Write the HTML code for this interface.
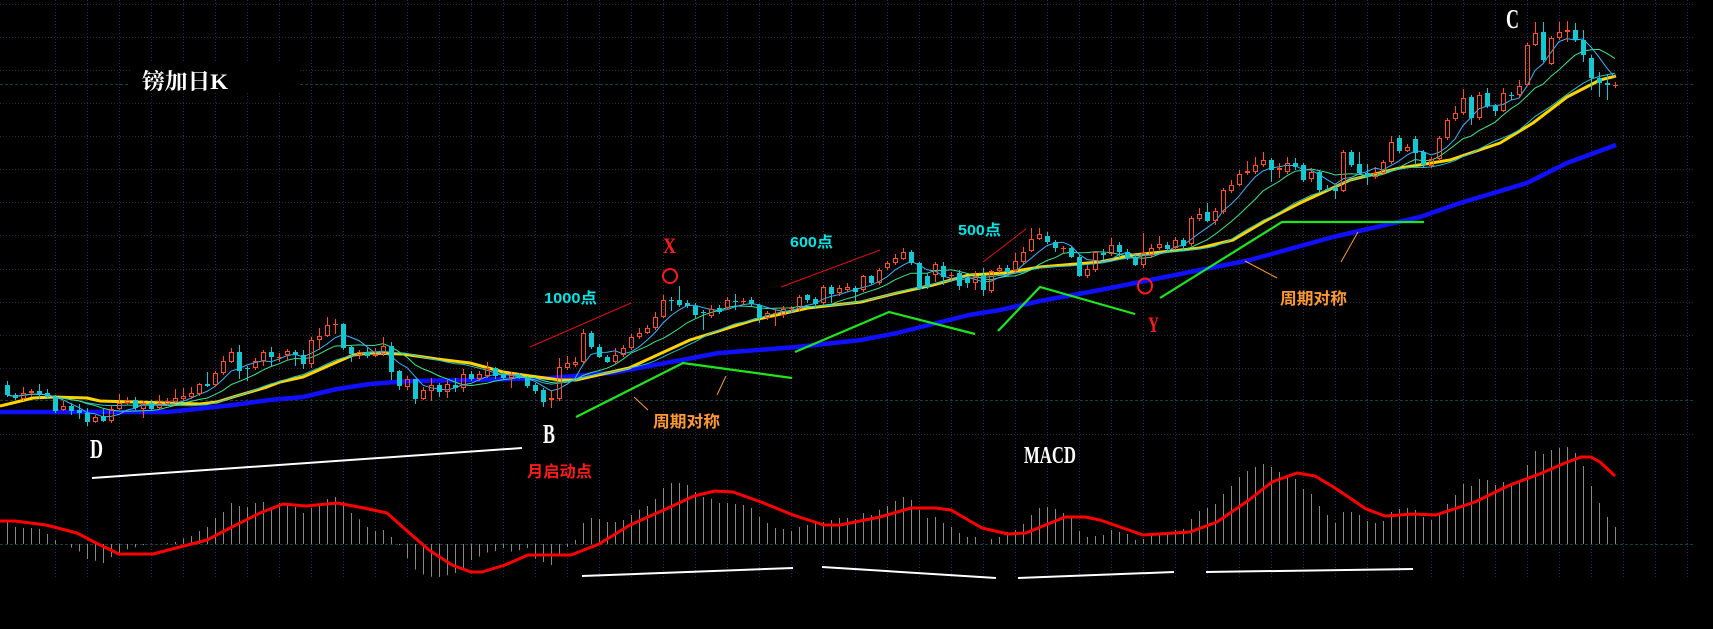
<!DOCTYPE html>
<html>
<head>
<meta charset="utf-8">
<style>
html,body{margin:0;padding:0;background:#000;overflow:hidden;}
svg{display:block;}
</style>
</head>
<body>
<svg id="s" xmlns="http://www.w3.org/2000/svg" width="1713" height="629" viewBox="0 0 1713 629">
<rect x="0" y="0" width="1713" height="629" fill="#000"/>
<g id="g"></g>
<g id="ann">
  <line x1="530" y1="347" x2="631" y2="303" stroke="#e01010" stroke-width="1"/>
  <line x1="781" y1="287" x2="880" y2="250" stroke="#e01010" stroke-width="1"/>
  <line x1="983" y1="262" x2="1026" y2="229" stroke="#e01010" stroke-width="1"/>
  <polyline points="576,417 683,363 690,364 792,378" fill="none" stroke="#1ee61e" stroke-width="2.2"/>
  <polyline points="795,352 889,312 975,334" fill="none" stroke="#1ee61e" stroke-width="2.2"/>
  <polyline points="998,331 1040,287 1135,314" fill="none" stroke="#1ee61e" stroke-width="2.2"/>
  <polyline points="1160,298 1282,222 1424,222" fill="none" stroke="#1ee61e" stroke-width="2.2"/>
  <line x1="634" y1="397" x2="648" y2="410" stroke="#ff9a30" stroke-width="1"/>
  <line x1="717" y1="395" x2="726" y2="376" stroke="#ff9a30" stroke-width="1"/>
  <line x1="1245" y1="261" x2="1277" y2="278" stroke="#ff9a30" stroke-width="1"/>
  <line x1="1341" y1="262" x2="1358" y2="232" stroke="#ff9a30" stroke-width="1"/>
  <ellipse cx="670" cy="276" rx="7" ry="7" fill="none" stroke="#ff1a1a" stroke-width="2"/>
  <ellipse cx="1145" cy="286" rx="7" ry="7.5" fill="none" stroke="#ff1a1a" stroke-width="2"/>
  <line x1="92" y1="478" x2="522" y2="448" stroke="#ffffff" stroke-width="2"/>
  <line x1="582" y1="576" x2="793" y2="568" stroke="#ffffff" stroke-width="2"/>
  <line x1="822" y1="567" x2="996" y2="578" stroke="#ffffff" stroke-width="2"/>
  <line x1="1018" y1="578" x2="1174" y2="572" stroke="#ffffff" stroke-width="2"/>
  <line x1="1206" y1="572" x2="1413" y2="569" stroke="#ffffff" stroke-width="2"/>
</g>
<rect x="130" y="62" width="168" height="30" fill="#000"/>
<text x="142" y="89" font-family="'Liberation Serif','Noto Serif CJK SC',serif" font-size="22" font-weight="bold" fill="#ffffff" textLength="86" lengthAdjust="spacingAndGlyphs">镑加日K</text>
<text x="544" y="303" font-family="'Liberation Sans','Noto Sans CJK SC',sans-serif" font-size="15" font-weight="bold" fill="#00e6e6" textLength="53" lengthAdjust="spacingAndGlyphs">1000点</text>
<text x="790" y="247" font-family="'Liberation Sans','Noto Sans CJK SC',sans-serif" font-size="15" font-weight="bold" fill="#00e6e6" textLength="43" lengthAdjust="spacingAndGlyphs">600点</text>
<text x="958" y="235" font-family="'Liberation Sans','Noto Sans CJK SC',sans-serif" font-size="15" font-weight="bold" fill="#00e6e6" textLength="43" lengthAdjust="spacingAndGlyphs">500点</text>
<text x="653" y="427" font-family="'Liberation Sans','Noto Sans CJK SC',sans-serif" font-size="16" font-weight="bold" fill="#ff9933" textLength="67" lengthAdjust="spacingAndGlyphs">周期对称</text>
<text x="1280" y="304" font-family="'Liberation Sans','Noto Sans CJK SC',sans-serif" font-size="16" font-weight="bold" fill="#ff9933" textLength="67" lengthAdjust="spacingAndGlyphs">周期对称</text>
<text x="527" y="477" font-family="'Liberation Sans','Noto Sans CJK SC',sans-serif" font-size="16" font-weight="bold" fill="#ff1a1a" textLength="65" lengthAdjust="spacingAndGlyphs">月启动点</text>
<text x="90" y="458" font-family="'Liberation Serif',serif" font-size="27" font-weight="bold" fill="#ffffff" textLength="13" lengthAdjust="spacingAndGlyphs">D</text>
<text x="543" y="443" font-family="'Liberation Serif',serif" font-size="27" font-weight="bold" fill="#ffffff" textLength="12" lengthAdjust="spacingAndGlyphs">B</text>
<text x="1506" y="28" font-family="'Liberation Serif',serif" font-size="27" font-weight="bold" fill="#ffffff" textLength="13" lengthAdjust="spacingAndGlyphs">C</text>
<text x="663" y="253" font-family="'Liberation Serif',serif" font-size="22" font-weight="bold" fill="#ff1a1a" textLength="13" lengthAdjust="spacingAndGlyphs">X</text>
<text x="1148" y="332" font-family="'Liberation Serif',serif" font-size="22" font-weight="bold" fill="#ff1a1a" textLength="11" lengthAdjust="spacingAndGlyphs">Y</text>
<text x="1024" y="463" font-family="'Liberation Serif',serif" font-size="24" font-weight="bold" fill="#ffffff" textLength="52" lengthAdjust="spacingAndGlyphs">MACD</text>
</svg>
<script>
(function(){
var C=[
[385,395,381,397,0],[395,398,393,400,0],[393,399,387,401,1],[391,393,389,397,1],[391,394,384,399,0],
[393,397,389,398,0],[397,411,395,413,0],[406,410,401,411,1],[406,411,403,415,0],[410,413,404,419,0],
[413,422,408,426,0],[417,422,415,423,1],[416,421,408,422,0],[409,421,406,423,1],[403,409,394,410,1],
[400,403,397,405,1],[400,408,397,410,0],[403,409,401,418,1],[403,409,400,411,0],[403,408,395,410,1],
[401,404,398,406,1],[398,402,389,403,1],[396,399,388,401,1],[393,397,387,399,1],[384,394,383,396,1],
[384,386,372,387,0],[373,385,371,386,1],[361,373,356,375,1],[352,362,348,363,1],[352,371,345,379,0],
[368,368,366,381,0],[361,368,358,370,1],[352,361,350,366,1],[352,357,347,367,0],[357,358,353,362,1],
[351,355,349,360,1],[352,355,350,366,0],[355,364,350,369,0],[340,364,337,368,1],[336,340,328,350,1],
[325,336,317,337,1],[324,325,319,334,1],[324,348,323,350,0],[347,354,345,362,0],[352,355,350,359,1],
[352,356,348,358,0],[355,356,348,357,1],[346,354,337,356,1],[346,372,342,380,0],[371,386,370,390,0],
[379,387,376,390,1],[379,399,379,404,0],[390,399,387,400,1],[385,391,378,401,1],[385,392,383,397,0],
[384,392,380,398,1],[385,388,378,392,0],[374,388,369,392,1],[374,379,371,381,0],[374,379,371,381,1],
[368,376,362,378,1],[368,376,367,379,0],[375,378,372,380,0],[375,378,372,388,1],[375,377,373,379,0],
[377,386,376,388,0],[385,391,383,394,0],[390,402,388,407,0],[398,400,390,408,1],[367,399,358,401,1],
[363,368,356,370,1],[362,365,357,367,1],[333,362,329,364,1],[333,347,331,349,0],[347,357,344,358,0],
[357,362,355,363,0],[355,362,348,364,1],[348,355,345,357,1],[337,348,334,350,1],[333,337,328,339,1],
[328,333,325,334,1],[317,328,312,330,1],[300,317,295,318,1],[300,300,297,311,0],[300,305,286,307,0],
[303,306,300,308,0],[306,315,303,318,0],[312,312,310,330,0],[309,316,305,318,1],[308,312,305,314,0],
[300,308,297,310,1],[301,301,294,310,0],[301,302,298,305,1],[300,304,297,306,0],[305,318,304,323,0],
[313,318,311,320,1],[313,314,309,326,1],[309,315,306,318,1],[308,309,306,312,1],[297,309,295,311,1],
[295,300,294,303,0],[299,304,297,308,0],[287,303,285,305,1],[287,294,285,303,0],[288,293,285,296,1],
[287,290,283,292,1],[288,292,286,301,0],[276,290,275,292,1],[276,283,275,285,0],[270,283,268,285,1],
[263,268,261,270,1],[258,263,254,265,1],[252,259,248,260,1],[252,263,250,265,0],[263,289,262,290,0],
[276,287,273,289,0],[264,275,262,282,1],[266,277,262,285,0],[275,276,272,280,1],[273,286,270,290,0],
[278,283,276,288,0],[276,283,271,290,1],[275,290,268,296,0],[271,291,270,293,1],[268,271,265,273,1],
[268,272,265,275,0],[261,271,253,274,1],[252,262,247,264,1],[239,251,228,252,1],[234,239,228,240,1],
[236,242,232,244,0],[242,248,240,252,0],[248,249,246,254,1],[248,257,246,258,0],[257,276,255,277,0],
[269,276,265,278,1],[252,270,251,272,1],[253,255,249,260,0],[245,254,238,256,1],[245,252,242,258,0],
[252,258,249,260,0],[257,265,255,266,0],[253,265,233,268,1],[248,255,244,258,1],[244,248,236,250,1],
[245,249,242,252,0],[240,248,237,250,1],[240,246,238,250,0],[218,244,216,246,1],[214,219,208,221,1],
[212,221,203,222,0],[211,221,208,225,1],[190,212,188,214,1],[185,191,180,193,1],[174,185,170,186,1],
[171,173,161,175,1],[165,172,157,174,1],[160,165,152,167,1],[160,170,158,182,0],[168,170,163,178,1],
[163,172,157,174,1],[163,167,158,170,0],[165,180,163,182,0],[172,179,168,182,1],[172,190,170,193,0],
[189,189,185,191,0],[188,191,185,199,0],[152,191,150,192,1],[152,165,150,167,0],[164,173,152,175,0],
[173,177,164,185,0],[173,177,167,179,1],[162,173,160,175,1],[142,162,136,164,1],[138,151,135,153,0],
[147,151,144,152,1],[139,153,136,165,0],[152,165,150,168,0],[159,166,157,168,1],[138,159,136,161,1],
[120,138,118,140,1],[113,119,106,121,1],[98,113,89,115,1],[97,118,95,125,0],[95,118,92,120,1],
[93,106,88,108,0],[106,111,104,116,0],[93,111,88,112,1],[95,95,92,100,0],[86,95,80,97,1],
[45,85,43,86,1],[33,45,22,46,1],[32,60,22,62,0],[38,64,36,65,1],[32,38,22,40,1],
[30,32,21,42,1],[30,40,23,42,0],[40,55,30,62,0],[58,78,55,90,0],[78,83,72,97,0],
[83,85,75,100,0],[85,85,82,88,1]
];
var YEL=[[0,406],[33,398],[53,397],[87,398],[100,401],[167,403],[200,404],[217,402],[233,397],[267,387],[280,382],[303,377],[337,362],[353,355],[370,353],[403,354],[437,359],[470,363],[503,372],[523,375],[560,380],[576,380],[629,368],[690,340],[754,320],[808,308],[861,302],[897,293],[933,285],[969,275],[1004,273],[1040,267],[1100,262],[1133,255],[1200,248],[1233,240],[1267,220],[1300,203],[1350,180],[1400,168],[1450,160],[1500,143],[1533,123],[1567,97],[1600,80],[1616,76]];
var BLU=[[0,412],[167,412],[187,410],[233,405],[270,400],[303,397],[337,389],[370,384],[410,381],[470,380],[550,378],[611,373],[660,364],[719,353],[797,347],[861,340],[897,333],[969,315],[1000,310],[1040,301],[1100,290],[1140,282],[1250,260],[1333,237],[1420,217],[1460,203],[1527,183],[1567,163],[1616,145]];
var MR=[[0,521],[15,521],[46,525],[77,533],[96,543],[119,554],[153,554],[176,548],[207,540],[230,528],[260,513],[283,504],[306,506],[337,503],[364,508],[387,513],[406,530],[429,550],[452,565],[471,572],[482,572],[505,565],[528,555],[571,555],[599,544],[630,525],[666,509],[694,496],[715,491],[733,492],[761,502],[793,515],[824,525],[840,525],[880,517],[911,508],[935,508],[951,510],[982,528],[1008,534],[1026,533],[1065,517],[1085,517],[1100,520],[1120,527],[1143,535],[1190,532],[1217,522],[1249,500],[1272,482],[1297,473],[1315,476],[1335,488],[1366,509],[1385,516],[1413,514],[1436,515],[1475,502],[1510,485],[1542,473],[1565,463],[1581,457],[1591,457],[1600,462],[1615,476]];
var H=[[7,522],[15,527],[24,528],[31,528],[40,529],[47,534],[55,540],[63,544],[72,548],[80,552],[87,559],[96,561],[103,563],[111,557],[119,553],[128,549],[136,547],[143,545],[151,544],[160,544],[168,543],[175,542],[184,538],[191,536],[199,531],[207,527],[215,518],[223,512],[231,503],[239,506],[247,507],[255,503],[263,502],[272,508],[279,503],[287,504],[295,507],[303,513],[311,508],[320,503],[327,499],[335,497],[343,502],[351,513],[360,520],[367,527],[375,531],[383,530],[391,537],[399,545],[408,560],[416,571],[424,575],[432,577],[439,577],[448,575],[455,573],[463,568],[471,560],[478,557],[488,552],[496,551],[503,548],[512,552],[520,550],[527,548],[536,560],[543,562],[551,565],[560,553],[567,547],[575,540],[583,523],[591,518],[599,519],[607,522],[615,522],[623,520],[631,515],[640,509],[647,506],[655,499],[663,488],[671,483],[679,483],[687,485],[695,492],[703,497],[712,499],[719,503],[727,503],[735,504],[743,505],[751,508],[759,517],[767,523],[775,528],[783,529],[791,531],[799,527],[807,525],[815,523],[823,522],[831,520],[839,518],[847,518],[855,519],[863,513],[871,515],[880,509],[887,506],[895,501],[903,497],[911,500],[919,510],[927,518],[935,517],[943,523],[951,527],[959,533],[967,537],[975,537],[983,544],[991,539],[999,537],[1007,532],[1015,530],[1023,524],[1031,515],[1039,508],[1047,507],[1055,509],[1063,513],[1071,518],[1079,531],[1087,537],[1095,536],[1103,535],[1111,530],[1119,532],[1127,534],[1135,540],[1143,539],[1151,535],[1159,533],[1167,533],[1175,530],[1183,529],[1191,519],[1199,511],[1207,508],[1215,504],[1223,494],[1231,486],[1239,477],[1247,471],[1255,467],[1263,464],[1271,467],[1279,472],[1287,475],[1295,479],[1303,489],[1311,494],[1319,506],[1327,515],[1335,523],[1343,512],[1351,512],[1359,515],[1367,521],[1375,523],[1383,521],[1391,512],[1399,509],[1407,508],[1415,510],[1423,517],[1431,520],[1439,515],[1447,504],[1455,495],[1463,484],[1471,486],[1479,479],[1487,480],[1495,485],[1503,482],[1511,485],[1519,482],[1527,465],[1535,451],[1543,454],[1551,450],[1559,448],[1567,447],[1575,453],[1583,466],[1591,486],[1599,503],[1607,517],[1615,527]];
function interp(p,x){if(x<=p[0][0])return p[0][1];for(var j=1;j<p.length;j++){if(x<=p[j][0]){var a=p[j-1],b=p[j];return a[1]+(b[1]-a[1])*(x-a[0])/(b[0]-a[0]);}}return p[p.length-1][1];}
function pl(p){return p.map(function(q){return q[0].toFixed(1)+','+q[1].toFixed(1);}).join(' ');}
var s='';
var k,x,y,i;
for(k=0;k<52;k++){x=55.5+32*k;s+='<line x1="'+x+'" y1="0" x2="'+x+'" y2="577" stroke="#262660" stroke-width="1" stroke-dasharray="1 2"/>';}
for(k=0;k<14;k++){y=Math.round(4+33.07*k)+0.5;if(Math.abs(y-400.5)<2)continue;s+='<line x1="0" y1="'+y+'" x2="1694" y2="'+y+'" stroke="#2a2a3a" stroke-width="1" stroke-dasharray="1 2"/>';}
[84.5,400.5,544.5].forEach(function(yy){s+='<line x1="0" y1="'+yy+'" x2="1694" y2="'+yy+'" stroke="#1a3c3c" stroke-width="1" stroke-dasharray="3 2"/>';});
for(i=0;i<C.length;i++){x=7+8*i+0.5;y=interp(H,7+8*i);s+='<line x1="'+x+'" y1="544" x2="'+x+'" y2="'+y.toFixed(1)+'" stroke="#888888" stroke-width="1"/>';}
s+='<polyline points="'+pl(MR)+'" fill="none" stroke="#ff0000" stroke-width="3" stroke-linejoin="round"/>';
s+='<polyline points="'+pl(BLU)+'" fill="none" stroke="#1010ff" stroke-width="4.5" stroke-linejoin="round"/>';
s+='<polyline points="'+pl(YEL)+'" fill="none" stroke="#ffd400" stroke-width="3" stroke-linejoin="round"/>';
var cl=C.map(function(c){return c[4]?c[0]:c[1];});
function ma(n){var r=[];for(var a=0;a<cl.length;a++){var t=0,m=0;for(var j=Math.max(0,a-n+1);j<=a;j++){t+=cl[j];m++;}r.push([7+8*a,t/m]);}return r;}
s+='<polyline points="'+pl(ma(20))+'" fill="none" stroke="#22c4cc" stroke-width="1"/>';
s+='<polyline points="'+pl(ma(10))+'" fill="none" stroke="#3ce68c" stroke-width="1"/>';
s+='<polyline points="'+pl(ma(5))+'" fill="none" stroke="#3cb4ff" stroke-width="1"/>';
for(i=0;i<C.length;i++){
 var c=C[i],cx=7+8*i,top=c[0],bot=c[1],hi=c[2],lo=c[3],col;
 if(c[4]){col='#ff4d1f';
  if(bot-top<2){
   s+='<line x1="'+(cx+0.5)+'" y1="'+hi+'" x2="'+(cx+0.5)+'" y2="'+lo+'" stroke="'+col+'"/>';
   s+='<rect x="'+(cx-2)+'" y="'+top+'" width="5" height="'+Math.max(1,bot-top)+'" fill="'+col+'"/>';
  }else{
   s+='<line x1="'+(cx+0.5)+'" y1="'+hi+'" x2="'+(cx+0.5)+'" y2="'+top+'" stroke="'+col+'"/>';
   s+='<line x1="'+(cx+0.5)+'" y1="'+bot+'" x2="'+(cx+0.5)+'" y2="'+lo+'" stroke="'+col+'"/>';
   s+='<rect x="'+(cx-1.5)+'" y="'+(top+0.5)+'" width="4" height="'+(bot-top-1)+'" fill="none" stroke="'+col+'" stroke-width="1"/>';
  }
 }else{col='#14c8d2';
  s+='<line x1="'+(cx+0.5)+'" y1="'+hi+'" x2="'+(cx+0.5)+'" y2="'+lo+'" stroke="'+col+'"/>';
  s+='<rect x="'+(cx-2)+'" y="'+top+'" width="5" height="'+Math.max(1,bot-top)+'" fill="'+col+'"/>';
 }
}
document.getElementById('g').innerHTML=s;
})();
</script>
</body>
</html>
